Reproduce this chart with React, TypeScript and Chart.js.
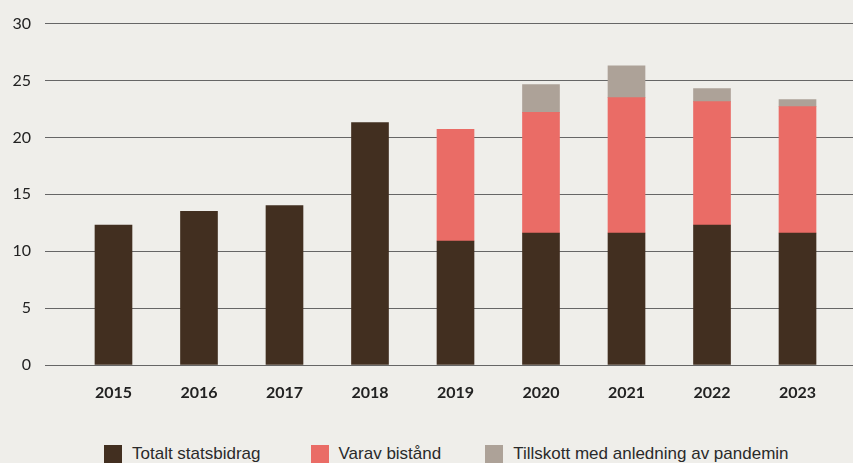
import React, { useEffect, useRef } from "react";
import { Chart, registerables } from "chart.js";

Chart.register(...registerables);

const years = ["2015", "2016", "2017", "2018", "2019", "2020", "2021", "2022", "2023"];
const totaltStatsbidrag = [12.3, 13.5, 14.0, 21.3, 10.9, 11.6, 11.6, 12.3, 11.6];
const varavBistand = [null, null, null, null, 9.8, 10.6, 11.9, 10.85, 11.1];
const tillskottPandemi = [null, null, null, null, null, 2.45, 2.8, 1.15, 0.63];
const yTicks = [0, 5, 10, 15, 20, 25, 30];

const seriesNames = ["Totalt statsbidrag", "Varav bistånd", "Tillskott med anledning av pandemin"];
const seriesColors = ["#422f20", "#ea6c66", "#ada298"];

const BG = "#efeeea";

function toPoints(arr: (number | null)[]) {
  return arr.map((v, i) => ({ x: i, y: v }));
}

export default function App() {
  const ref = useRef<HTMLCanvasElement | null>(null);

  useEffect(() => {
    document.body.style.margin = "0";
    document.body.style.background = BG;
    const canvas = ref.current;
    if (!canvas) return;
    const chart = new Chart(canvas, {
      type: "bar",
      data: {
        datasets: [totaltStatsbidrag, varavBistand, tillskottPandemi].map((arr, k) => ({
          label: seriesNames[k],
          data: toPoints(arr as (number | null)[]) as any,
          backgroundColor: seriesColors[k],
          borderWidth: 0,
          barThickness: 37,
        })),
      },
      options: {
        animation: false,
        responsive: false,
        maintainAspectRatio: false,
        layout: { padding: { top: 23, bottom: 18, left: 0, right: 0 } },
        plugins: {
          legend: { display: false },
          tooltip: { enabled: false },
        },
        scales: {
          x: {
            type: "linear",
            stacked: true,
            offset: false,
            min: -0.801,
            max: 8.649,
            afterBuildTicks: (scale: any) => {
              scale.ticks = years.map((_, i) => ({ value: i }));
            },
            afterFit: (scale: any) => {
              scale.height = 37;
            },
            ticks: {
              autoSkip: false,
              maxRotation: 0,
              padding: 18,
              color: "#222222",
              font: { family: "Lato", size: 16, weight: "bold" },
              callback: (v: any) => years[Math.round(Number(v))] ?? "",
            },
            grid: { display: false, drawTicks: false },
            border: { display: false },
          },
          y: {
            stacked: true,
            min: 0,
            max: 30,
            afterBuildTicks: (scale: any) => {
              scale.ticks = yTicks.map((v) => ({ value: v }));
            },
            afterFit: (scale: any) => {
              scale.width = 45;
            },
            ticks: {
              padding: 14,
              color: "#222222",
              font: { family: "Lato", size: 16 },
            },
            grid: { color: "#666666", lineWidth: 1, drawTicks: false },
            border: { display: false },
          },
        },
      },
    });
    return () => chart.destroy();
  }, []);

  return (
    <div style={{ position: "relative", width: 853, height: 463, overflow: "hidden", background: BG }}>
      <canvas ref={ref} width={853} height={420} style={{ display: "block", width: 853, height: 420 }} />
      <div
        style={{
          position: "absolute",
          top: 445,
          left: 104,
          display: "flex",
          alignItems: "flex-start",
          fontFamily: "'Liberation Sans', sans-serif",
          fontSize: 17,
          lineHeight: "18px",
          color: "#2a2a2a",
          whiteSpace: "nowrap",
        }}
      >
        {seriesNames.map((name, k) => (
          <div key={name} style={{ display: "flex", alignItems: "flex-start", marginRight: k === 0 ? 50 : 44 }}>
            <span style={{ display: "inline-block", width: 18, height: 18, background: seriesColors[k], marginRight: 10 }} />
            <span>{name}</span>
          </div>
        ))}
      </div>
    </div>
  );
}
